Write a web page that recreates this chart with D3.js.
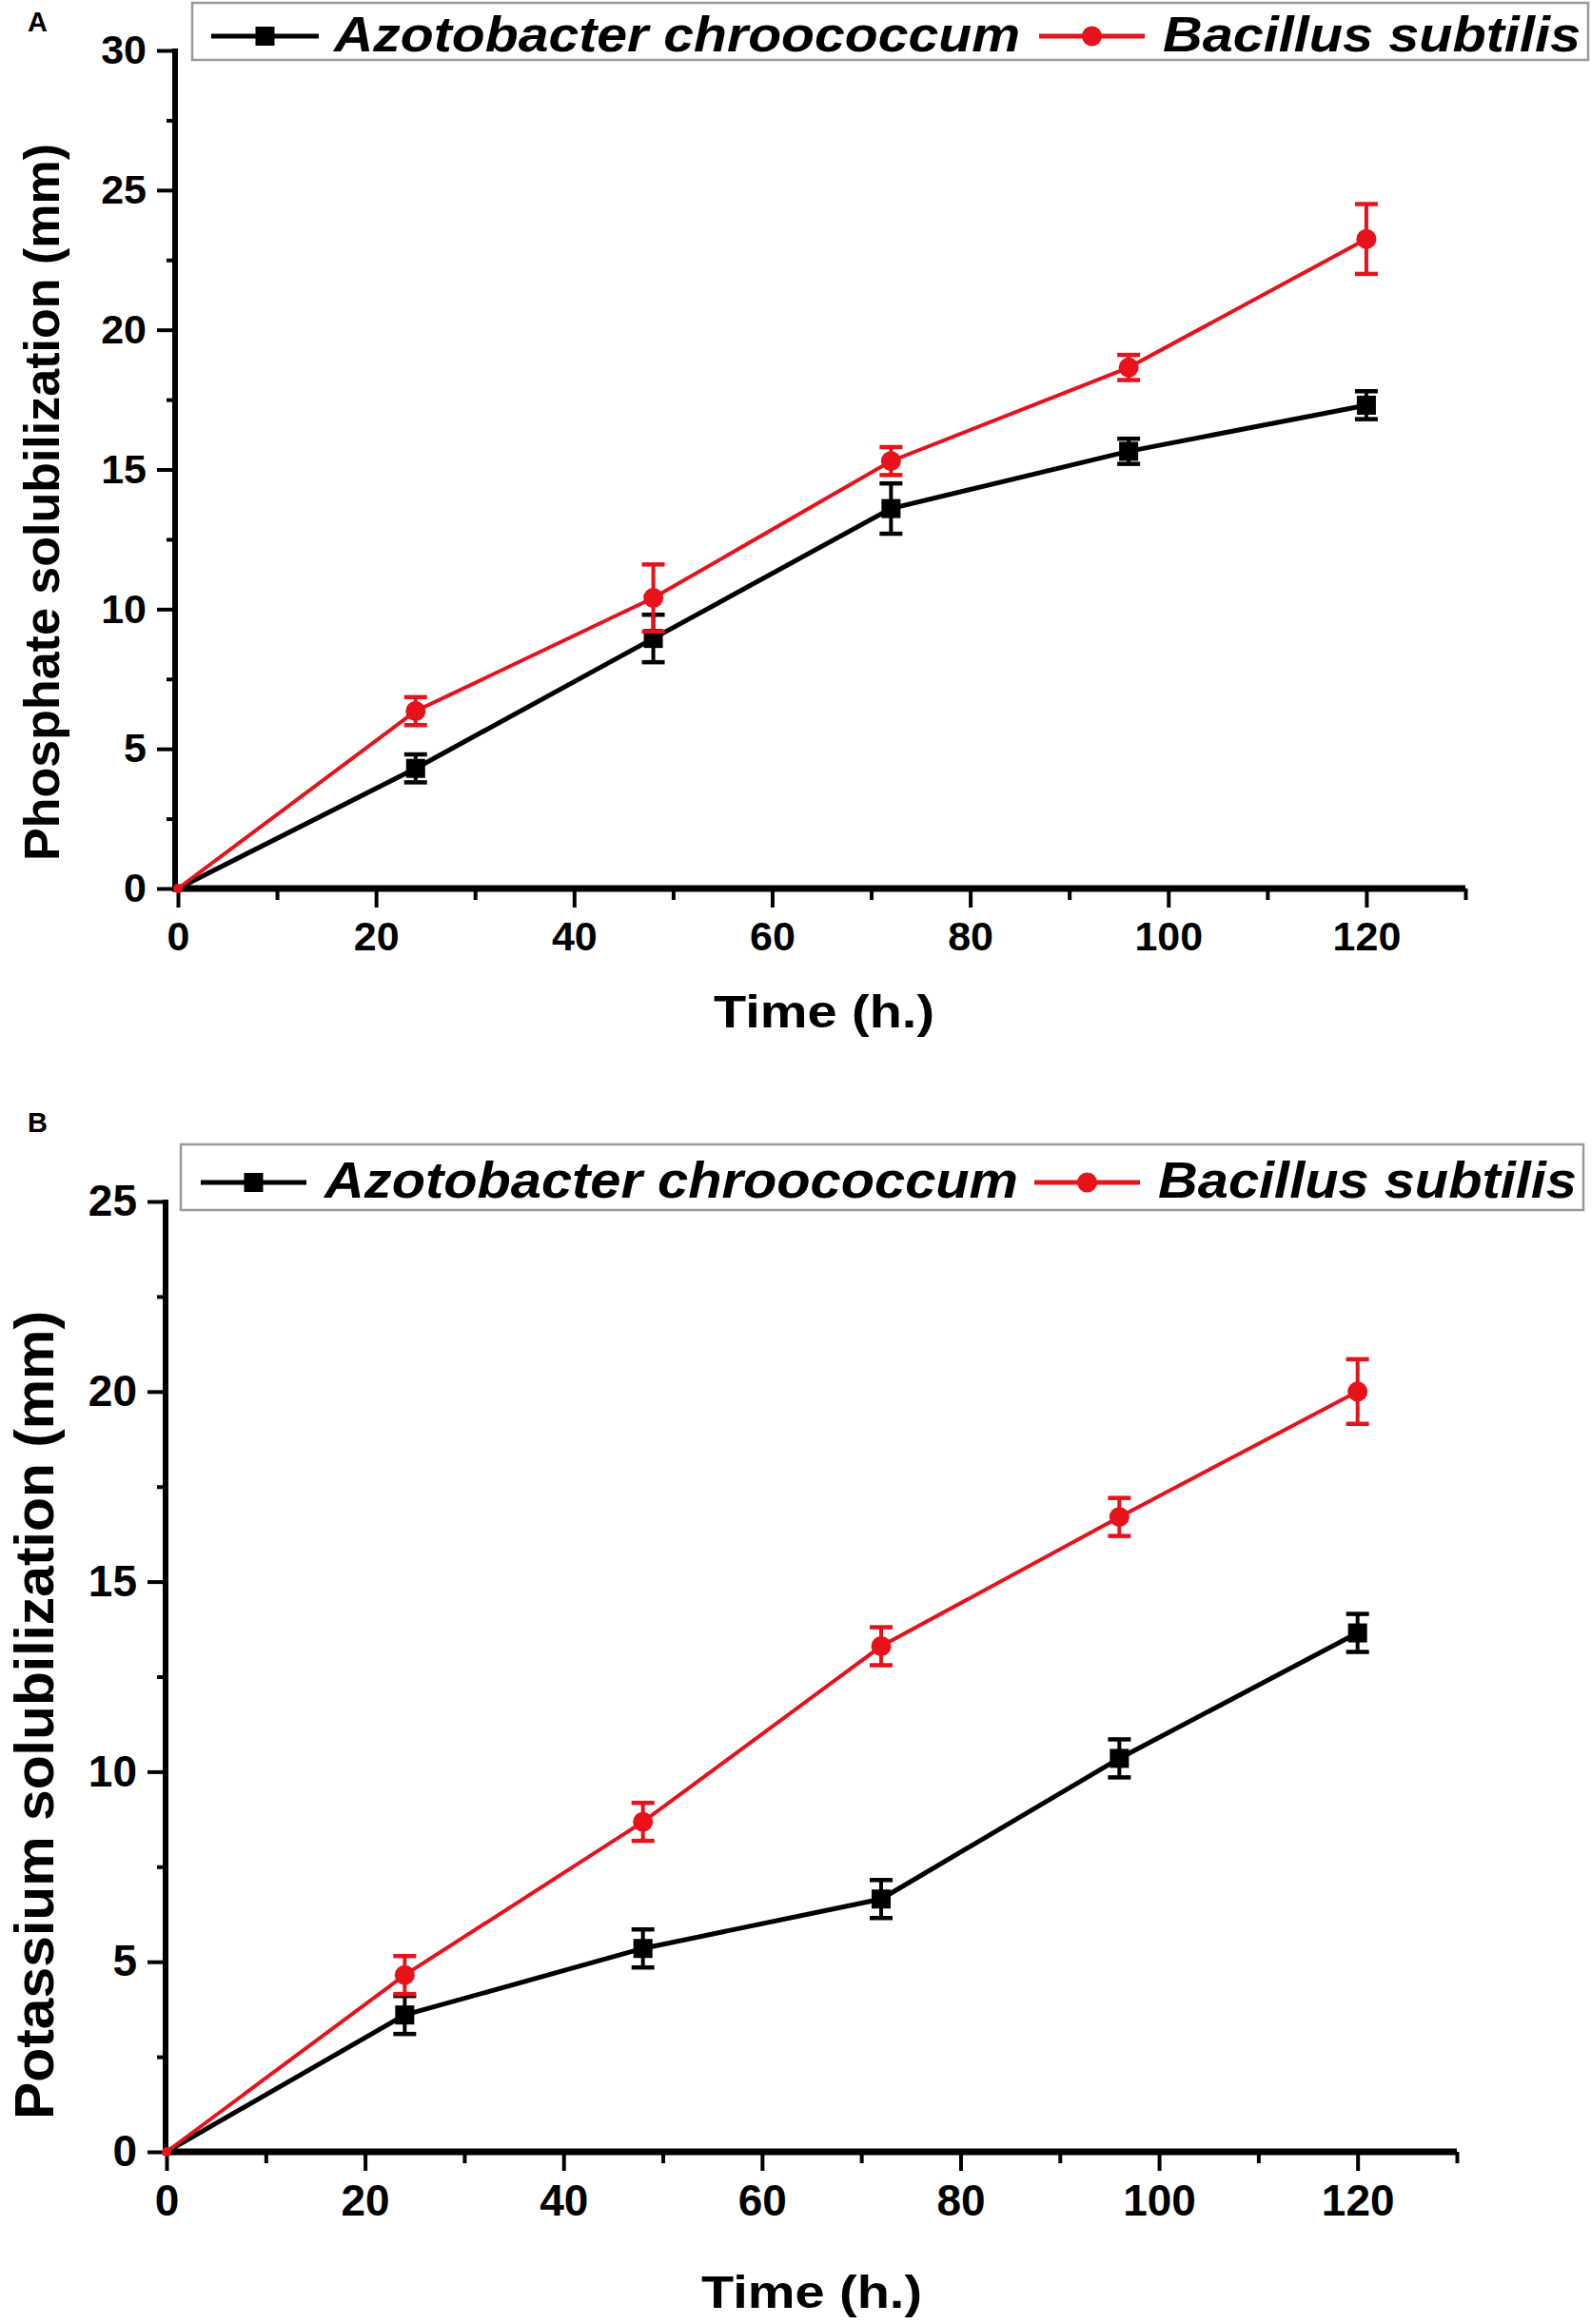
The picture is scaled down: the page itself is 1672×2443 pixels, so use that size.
<!DOCTYPE html>
<html>
<head>
<meta charset="utf-8">
<script src="https://cdn.jsdelivr.net/npm/d3@7/dist/d3.min.js"></script>
<style>
  body { margin: 0; background: #fff; }
  svg { display: block; font-family: "Liberation Sans", Arial, sans-serif; font-weight: bold; }
</style>
</head>
<body>
<div id="container"></div>
<script>
// two panels: phosphate (A) and potassium (B) solubilization over time

const hours = [0, 24, 48, 72, 96, 120];
const seriesNames = ["Azotobacter chroococcum", "Bacillus subtilis"];

const phosAzoto      = [0, 4.3, 8.95, 13.6, 15.65, 17.3];
const phosAzotoErr   = [0, 0.5, 0.85, 0.9, 0.45, 0.5];
const phosBacillus   = [0, 6.35, 10.4, 15.3, 18.65, 23.25];
const phosBacillusErr= [0, 0.5, 1.2, 0.5, 0.45, 1.25];

const potAzoto       = [0, 3.6, 5.35, 6.65, 10.35, 13.65];
const potAzotoErr    = [0, 0.5, 0.5, 0.5, 0.5, 0.5];
const potBacillus    = [0, 4.65, 8.68, 13.3, 16.7, 20.0];
const potBacillusErr = [0, 0.5, 0.5, 0.5, 0.5, 0.85];

const xTicks = [0, 20, 40, 60, 80, 100, 120];
const phosTicks = [0, 5, 10, 15, 20, 25, 30];
const potTicks = [0, 5, 10, 15, 20, 25];

const black = "#000",
      red = "#e8121a";

const svg = d3.select("#container").append("svg")
    .attr("width", 1672)
    .attr("height", 2443);

function drawPanel(cfg){

    const g = svg.append("g");

    const x = d3.scaleLinear().domain([0, 130]).range([cfg.x0, cfg.x130]);
    const y = d3.scaleLinear().domain([0, cfg.ymax]).range([cfg.y0, cfg.ytop]);

    // panel letter
    g.append("text")
	.attr("x", 29).attr("y", cfg.letterY)
	.attr("font-size", 29)
	.text(cfg.letter);

    // minor ticks first, majors on top
    const minorX = d3.range(10, 131, 20);
    g.append("g")
	.attr("transform", "translate(0," + cfg.y0 + ")")
	.call(d3.axisBottom(x).tickValues(minorX).tickSize(12).tickFormat(""))
	.call(a => a.select(".domain").remove())
	.selectAll("line").attr("stroke-width", 4);

    const minorY = d3.range(2.5, cfg.ymax, 5);
    g.append("g")
	.attr("transform", "translate(" + cfg.axisX + ",0)")
	.call(d3.axisLeft(y).tickValues(minorY).tickSize(9).tickFormat(""))
	.call(a => a.select(".domain").remove())
	.selectAll("line").attr("stroke-width", 4);

    const xAxis = g.append("g")
	.attr("transform", "translate(0," + cfg.y0 + ")")
	.call(d3.axisBottom(x).tickValues(xTicks).tickSize(20).tickPadding(14));
    xAxis.select(".domain").remove();
    xAxis.selectAll("line").attr("stroke-width", 4);
    xAxis.selectAll("text")
	.attr("font-size", cfg.tickFont)
	.attr("font-family", "Liberation Sans, Arial, sans-serif")
	.attr("font-weight", "bold")
	.attr("fill", black);

    const yAxis = g.append("g")
	.attr("transform", "translate(" + cfg.axisX + ",0)")
	.call(d3.axisLeft(y).tickValues(cfg.yTicks).tickSize(19).tickPadding(11));
    yAxis.select(".domain").remove();
    yAxis.selectAll("line").attr("stroke-width", 4);
    yAxis.selectAll("text")
	.attr("font-size", cfg.tickFont)
	.attr("font-family", "Liberation Sans, Arial, sans-serif")
	.attr("font-weight", "bold")
	.attr("fill", black);

    // axis lines
    g.append("line")
	.attr("x1", cfg.axisX).attr("x2", cfg.axisX)
	.attr("y1", cfg.y0 + 3).attr("y2", y(cfg.ymax) - 2)
	.attr("stroke", black).attr("stroke-width", 6);
    g.append("line")
	.attr("x1", cfg.axisX - 3).attr("x2", x(130))
	.attr("y1", cfg.y0).attr("y2", cfg.y0)
	.attr("stroke", black).attr("stroke-width", 7);

    // titles
    g.append("text")
	.attr("x", cfg.timeX).attr("y", cfg.timeY)
	.attr("text-anchor", "middle")
	.attr("font-size", 48)
	.attr("textLength", 232)
	.attr("lengthAdjust", "spacingAndGlyphs")
	.text("Time (h.)");

    g.append("text")
	.attr("transform", "translate(" + cfg.yTitleX + "," + cfg.yTitleY + ") rotate(-90)")
	.attr("text-anchor", "middle")
	.attr("font-size", cfg.yTitleFont)
	.attr("textLength", cfg.yTitleLen)
	.attr("lengthAdjust", "spacingAndGlyphs")
	.text(cfg.yTitle);

    // series
    const line = d3.line()
	.x((d, i) => x(hours[i]))
	.y(d => y(d));

    cfg.series.forEach(function(s){
	g.append("path")
	    .datum(s.values)
	    .attr("fill", "none")
	    .attr("stroke", s.color)
	    .attr("stroke-width", s.width)
	    .attr("d", line);

	const pts = g.append("g").selectAll("g")
	    .data(s.values.map((v, i) => ({ t: hours[i], v: v, e: s.err[i] })))
	    .enter().append("g")
	    .attr("stroke", s.color)
	    .attr("fill", s.color);

	pts.filter(d => d.e > 0).append("line")
	    .attr("x1", d => x(d.t)).attr("x2", d => x(d.t))
	    .attr("y1", d => y(d.v - d.e)).attr("y2", d => y(d.v + d.e))
	    .attr("stroke-width", 4);
	[-1, 1].forEach(function(sg){
	    pts.filter(d => d.e > 0).append("line")
		.attr("x1", d => x(d.t) - 12).attr("x2", d => x(d.t) + 12)
		.attr("y1", d => y(d.v + sg * d.e)).attr("y2", d => y(d.v + sg * d.e))
		.attr("stroke-width", 4.5);
	});

	if (s.shape === "square"){
	    pts.append("rect")
		.attr("x", d => x(d.t) - (d.t === 0 ? 4 : 10))
		.attr("y", d => y(d.v) - (d.t === 0 ? 4 : 10))
		.attr("width", d => d.t === 0 ? 8 : 20)
		.attr("height", d => d.t === 0 ? 8 : 20)
		.attr("stroke", "none");
	} else {
	    pts.append("circle")
		.attr("cx", d => x(d.t)).attr("cy", d => y(d.v))
		.attr("r", d => d.t === 0 ? 5 : 10.5)
		.attr("stroke", "none");
	}
    });

    // legend
    const L = cfg.legend;
    g.append("rect")
	.attr("x", L.x).attr("y", L.y)
	.attr("width", L.w).attr("height", L.h)
	.attr("fill", "#fff")
	.attr("stroke", "#9a9a9a")
	.attr("stroke-width", 2.5);

    cfg.series.forEach(function(s, i){
	const item = L.items[i];
	g.append("line")
	    .attr("x1", item.lx1).attr("x2", item.lx2)
	    .attr("y1", L.symY).attr("y2", L.symY)
	    .attr("stroke", s.color).attr("stroke-width", 5);
	const cx = (item.lx1 + item.lx2) / 2;
	if (s.shape === "square"){
	    g.append("rect")
		.attr("x", cx - 10).attr("y", L.symY - 10)
		.attr("width", 20).attr("height", 20)
		.attr("fill", s.color);
	} else {
	    g.append("circle")
		.attr("cx", cx).attr("cy", L.symY).attr("r", 10.5)
		.attr("fill", s.color);
	}
	g.append("text")
	    .attr("x", item.tx).attr("y", L.baseY)
	    .attr("font-size", L.font)
	    .attr("font-style", "italic")
	    .attr("textLength", item.tlen)
	    .attr("lengthAdjust", "spacingAndGlyphs")
	    .text(seriesNames[i]);
    });
}

drawPanel({
    letter: "A", letterY: 33,
    x0: 187, x130: 1540, axisX: 184,
    y0: 934, ytop: 53, ymax: 30, yTicks: phosTicks,
    tickFont: 43,
    timeX: 866, timeY: 1080,
    yTitle: "Phosphate solubilization (mm)", yTitleX: 62, yTitleY: 528,
    yTitleFont: 52, yTitleLen: 754,
    series: [
	{ values: phosAzoto, err: phosAzotoErr, color: black, shape: "square", width: 5 },
	{ values: phosBacillus, err: phosBacillusErr, color: red, shape: "circle", width: 4 }
    ],
    legend: {
	x: 202, y: 3, w: 1467, h: 60, symY: 38, baseY: 54, font: 52,
	items: [
	    { lx1: 222, lx2: 335, tx: 351, tlen: 721 },
	    { lx1: 1092, lx2: 1203, tx: 1222, tlen: 439 }
	]
    }
});

drawPanel({
    letter: "B", letterY: 1190,
    x0: 175, x130: 1531, axisX: 174,
    y0: 2262, ytop: 1263, ymax: 25, yTicks: potTicks,
    tickFont: 46,
    timeX: 853, timeY: 2426,
    yTitle: "Potassium solubilization (mm)", yTitleX: 56, yTitleY: 1803,
    yTitleFont: 58, yTitleLen: 850,
    series: [
	{ values: potAzoto, err: potAzotoErr, color: black, shape: "square", width: 5 },
	{ values: potBacillus, err: potBacillusErr, color: red, shape: "circle", width: 4 }
    ],
    legend: {
	x: 190, y: 1203, w: 1474, h: 69, symY: 1243, baseY: 1259, font: 54,
	items: [
	    { lx1: 211, lx2: 322, tx: 341, tlen: 729 },
	    { lx1: 1087, lx2: 1198, tx: 1217, tlen: 440 }
	]
    }
});
</script>
</body>
</html>
